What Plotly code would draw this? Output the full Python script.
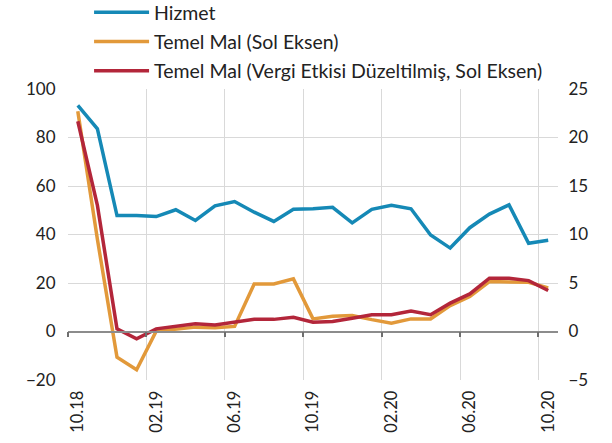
import plotly.graph_objects as go

months = ["10.18","11.18","12.18","01.19","02.19","03.19","04.19","05.19","06.19","07.19","08.19","09.19",
          "10.19","11.19","12.19","01.20","02.20","03.20","04.20","05.20","06.20","07.20","08.20","09.20","10.20"]
hizmet = [23.3, 20.9, 11.95, 11.95, 11.85, 12.55, 11.45, 12.95, 13.4, 12.3, 11.35, 12.6,
          12.65, 12.8, 11.2, 12.6, 13.0, 12.65, 9.95, 8.6, 10.7, 12.1, 13.05, 9.1, 9.4]
temel = [90.8, 38.0, -10.6, -15.8, 0.1, 1.1, 1.8, 1.5, 2.1, 19.6, 19.6, 21.7,
         5.2, 6.3, 6.6, 4.9, 3.4, 5.2, 5.2, 10.7, 14.4, 20.6, 20.6, 20.3, 18.0]
temel_vergi = [86.7, 52.0, 1.1, -3.0, 1.1, 2.1, 3.2, 2.7, 3.8, 5.0, 5.0, 5.9,
               3.8, 4.1, 5.5, 6.9, 6.9, 8.4, 6.9, 11.7, 15.5, 22.0, 22.0, 21.0, 16.9]

left_ticks = [-20, 0, 20, 40, 60, 80, 100]
right_ticks = [-5, 0, 5, 10, 15, 20, 25]
y_range = [-20, 100]

xi = list(range(len(months)))
tick_idx = xi[::4]
bounds = [i - 0.5 for i in tick_idx]
x_range = [-0.5, len(months) - 0.5]
zero_pos = (0 - y_range[0]) / (y_range[1] - y_range[0])

FONT = "Lato"
fig = go.Figure()
fig.add_trace(go.Scatter(x=[], y=[], xaxis="x2", showlegend=False, hoverinfo="skip"))
fig.add_trace(go.Scatter(x=xi, y=hizmet, name="Hizmet", yaxis="y2", mode="lines", legendgroup="a",
                         line=dict(color="#1589B6", width=3.5)))
fig.add_trace(go.Scatter(x=xi, y=temel, name="Temel Mal (Sol Eksen)", mode="lines", legendgroup="b",
                         line=dict(color="#E2993A", width=3.5)))
fig.add_trace(go.Scatter(x=xi, y=temel_vergi, name="Temel Mal (Vergi Etkisi Düzeltilmiş, Sol Eksen)",
                         mode="lines", legendgroup="c",
                         line=dict(color="#B3263A", width=3.5)))

fig.update_layout(
    width=612, height=443,
    margin=dict(l=68, r=54, t=89, b=63, autoexpand=False),
    plot_bgcolor="white", paper_bgcolor="white",
    font=dict(family=FONT, size=17, color="#222"),
    showlegend=True,
    legend=dict(x=0.043, y=1.33, xanchor="left", yanchor="top", bgcolor="rgba(0,0,0,0)",
                font=dict(size=19.5), tracegroupgap=1, traceorder="grouped", itemwidth=55),
    xaxis=dict(range=x_range, tickmode="array", tickvals=tick_idx,
               ticktext=[months[i] for i in tick_idx], tickangle=-90, showgrid=False,
               zeroline=False, showline=False, ticks="outside", ticklen=3, tickcolor="rgba(0,0,0,0)",
               tickfont=dict(size=16.5), automargin=False,
               minor=dict(tickvals=bounds, showgrid=True, gridcolor="#D9D9D9", gridwidth=1, ticks="")),
    xaxis2=dict(range=x_range, overlaying="x", anchor="free", position=zero_pos,
                showline=True, linecolor="#8C8C8C", linewidth=1.5, showgrid=False, zeroline=False,
                tickmode="array", tickvals=bounds, ticks="outside", ticklen=5, tickwidth=1.5,
                tickcolor="#6E6E6E", showticklabels=False, automargin=False),
    yaxis=dict(range=y_range, tickvals=left_ticks, showgrid=True, gridcolor="#D9D9D9",
               zeroline=False, ticks="outside",
               ticklen=8, tickcolor="rgba(0,0,0,0)", showline=False, automargin=False),
    yaxis2=dict(range=[-5, 25], tickvals=right_ticks, overlaying="y", side="right",
                showgrid=False, zeroline=False, ticks="outside", ticklen=6,
                tickcolor="rgba(0,0,0,0)", automargin=False),
)
fig.write_html("out.html", config={"displayModeBar": False},
               post_script="document.body.style.margin='0';")
